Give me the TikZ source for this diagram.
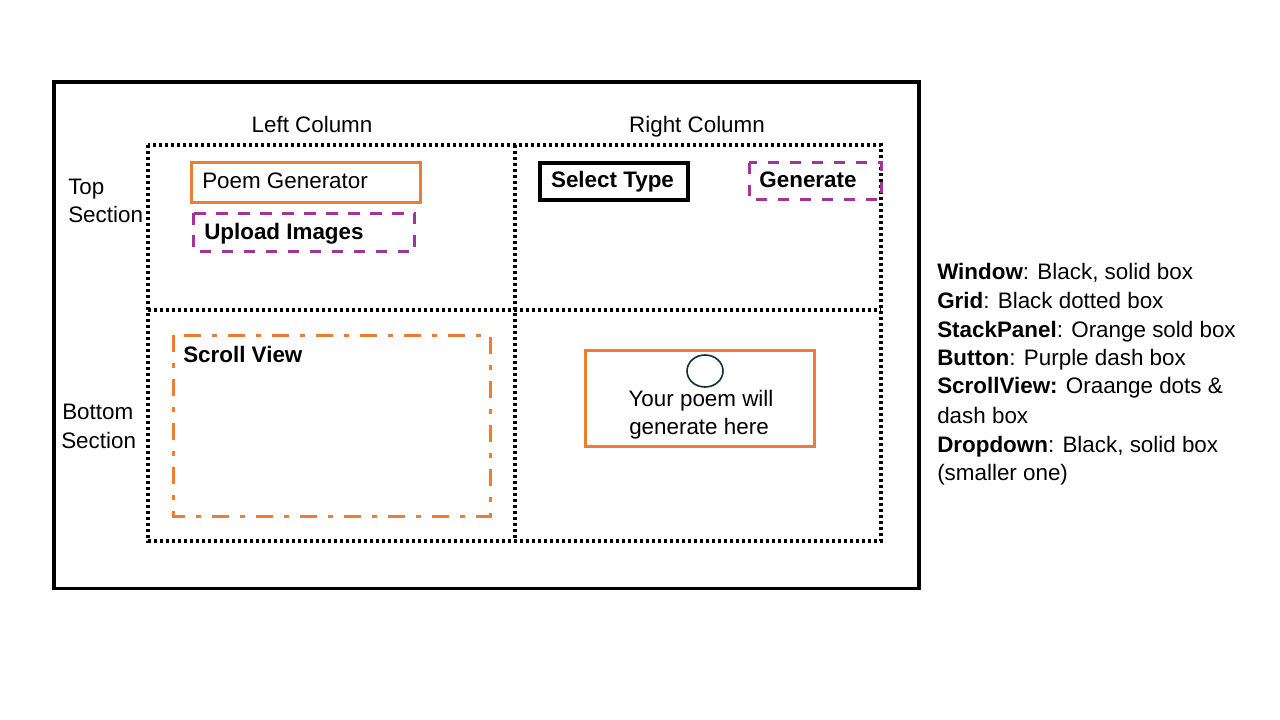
\documentclass[tikz,border=0pt]{standalone}
\usepackage{fontspec}
\setmainfont{Liberation Sans}
\usetikzlibrary{shapes.geometric}
\definecolor{orng}{HTML}{ED7D31}
\definecolor{purp}{HTML}{A1339A}
\definecolor{navy}{HTML}{10303F}
\begin{document}
\begin{tikzpicture}[x=0.75pt,y=-0.75pt, font=\fontsize{16.8}{20}\selectfont,
 txt/.style={inner sep=0, anchor=base west},
 ctxt/.style={inner sep=0, anchor=base},
 bftxt/.style={font=\fontsize{16.8}{20}\selectfont\bfseries},
 win/.style={draw=black, line width=2.6pt},
 gridline/.style={draw=black, line width=2.5pt, dash pattern=on 2.4pt off 2.1pt},
 stackbox/.style={draw=orng, line width=2.25pt},
 btnbox/.style={draw=purp, line width=2.25pt, dash pattern=on 8.5pt off 8pt},
 scrollbox/.style={draw=orng, line width=2.25pt, dash pattern=on 12.75pt off 8.25pt on 3.5pt off 8.5pt},
 dropbox/.style={draw=black, line width=2.6pt}]
\useasboundingbox (0,0) rectangle (1280,720);
% window
\draw[win] (54,82) rectangle (919,588.5);
% grid
\draw[gridline] (148,145) rectangle (881,541);
\draw[gridline] (515,145) -- (515,541);
\draw[gridline] (148,310) -- (881,310);
% headers
\node[ctxt] (lc) at (312,133) {Left Column};
\node[ctxt] (rc) at (697,133) {Right Column};
\node[txt] (top1) at (68,195) {Top};
\node[txt] (top2) at (68,223) {Section};
\node[txt] (bot1) at (62,419) {Bottom};
\node[txt] (bot2) at (61,448) {Section};
% top left
\draw[stackbox] (191,163) rectangle (420,203);
\node[txt] (pg) at (202,189) {Poem Generator};
\draw[btnbox] (193.5,213.5) rectangle (414.5,251.5);
\node[txt,bftxt] (ui) at (204,239) {Upload Images};
% top right
\draw[dropbox] (540,163) rectangle (688,200);
\node[ctxt,bftxt] (st) at (612.5,188) {Select Type};
\draw[btnbox] (749,163) rectangle (881,200);
\node[ctxt,bftxt] (gen) at (808,188) {Generate};
% bottom left
\draw[scrollbox] (173,335) rectangle (490,516);
\node[txt,bftxt] (sv) at (183,362) {Scroll View};
% bottom right
\draw[stackbox] (585,350) rectangle (814,446);
\node[draw=navy, line width=1.2pt, ellipse, minimum width=27pt, minimum height=24pt, inner sep=0] (circ) at (705,371) {};
\node[ctxt] (out1) at (701,406) {Your poem will};
\node[ctxt] (out2) at (699,434) {generate here};
% legend
\node[txt] (l1) at (937,279) {\textbf{Window}: Black, solid box};
\node[txt] (l2) at (937,308) {\textbf{Grid}: Black dotted box};
\node[txt] (l3) at (937,337) {\textbf{StackPanel}: Orange sold box};
\node[txt] (l4) at (937,365) {\textbf{Button}: Purple dash box};
\node[txt] (l5) at (937,393) {\textbf{ScrollView:} Oraange dots \&};
\node[txt] (l6) at (937,423) {dash box};
\node[txt] (l7) at (937,452) {\textbf{Dropdown}: Black, solid box};
\node[txt] (l8) at (937,480) {(smaller one)};
\end{tikzpicture}
\end{document}
